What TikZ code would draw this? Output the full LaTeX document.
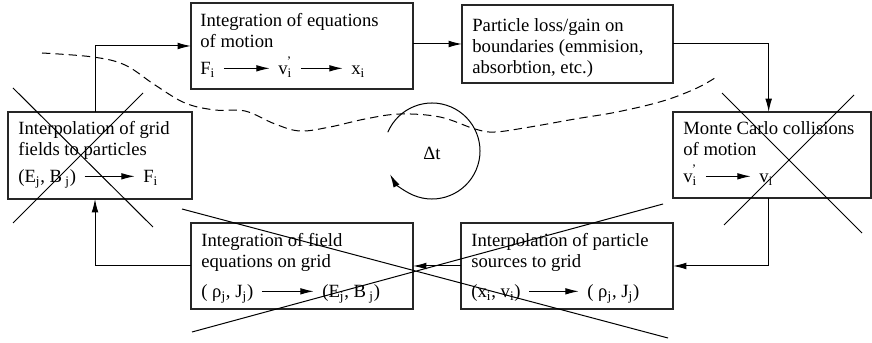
\documentclass[tikz,border=0pt]{standalone}
\usepackage{fontspec}
\setmainfont{Liberation Serif}
\usepackage{tikz}
\usetikzlibrary{arrows.meta, positioning, calc}

\newcommand{\velprime}{v\textsubscript{i}\llap{\raisebox{0.3ex}{\textsuperscript{’}}}}

\begin{document}
\begin{tikzpicture}[x=0.6pt, y=-0.6pt,
        font=\fontsize{11.2}{12.6}\selectfont,
        stagebox/.style={rectangle, draw=black!85, line width=0.7pt, inner sep=0pt, outer sep=0pt},
        stagetext/.style={anchor=base west, align=left, inner sep=0pt},
        quant/.style={anchor=base west, inner sep=0pt, text height=8pt, text depth=0pt},
        arrowline/.style={-{Latex[length=8pt, width=4pt]}, line width=0.6pt},
        maparrow/.style={-{Latex[length=8pt, width=4pt]}, line width=0.6pt, shorten <=5pt, shorten >=5pt},
        strike/.style={line width=0.6pt},
        boundary/.style={dash pattern=on 5pt off 3pt, line width=0.6pt}
    ]
        \useasboundingbox (0,0) rectangle (872,343);
        % stages of the cycle
        \node[stagebox, minimum width=133.2pt, minimum height=51.6pt] (motion) at (302,46) {};
        \node[stagebox, minimum width=126.6pt, minimum height=46.8pt] (loss) at (567.5,44) {};
        \node[stagebox, minimum width=110.4pt, minimum height=52.2pt] (grid) at (100,155.5) {};
        \node[stagebox, minimum width=118.8pt, minimum height=51.6pt] (mc) at (772,155) {};
        \node[stagebox, minimum width=133.2pt, minimum height=51.6pt] (field) at (302,266) {};
        \node[stagebox, minimum width=127.2pt, minimum height=51.6pt] (sources) at (567,266) {};
        \node[stagetext] (motiontxt) at (200,48) {Integration of equations\\of motion};
        \node[stagetext] (losstxt) at (472,74) {Particle loss/gain on\\boundaries (emmision,\\absorbtion, etc.)};
        \node[stagetext] (gridtxt) at (18,156) {Interpolation of grid\\fields to particles};
        \node[stagetext] (mctxt) at (683,156) {Monte Carlo collisions\\of motion};
        \node[stagetext] (fieldtxt) at (201,268) {Integration of field\\equations on grid};
        \node[stagetext] (sourcetxt) at (471,268) {Interpolation of particle\\sources to grid};
        % quantities inside the stages
        \node[quant] (motF) at (200,75) {F\textsubscript{i}};
        \node[quant] (motv) at (278,75) {\velprime};
        \node[quant] (motx) at (351,75) {x\textsubscript{i}};
        \draw[maparrow] (motF.east) -- (motv.west);
        \draw[maparrow] (motv.east) -- (motx.west);
        \node[quant] (gridEB) at (18,183) {(E\textsubscript{j}, B\,\textsubscript{j})};
        \node[quant] (gridF) at (143,183) {F\textsubscript{i}};
        \draw[maparrow] (gridEB.east) -- (gridF.west);
        \node[quant] (mcvp) at (683,183) {\velprime};
        \node[quant] (mcv) at (759,183) {v\textsubscript{i}};
        \draw[maparrow] (mcvp.east) -- (mcv.west);
        \node[quant] (fieldrho) at (201,298) {( ρ\textsubscript{j}, J\textsubscript{j})};
        \node[quant] (fieldEB) at (322,298) {(E\textsubscript{j}, B\,\textsubscript{j})};
        \draw[maparrow] (fieldrho.east) -- (fieldEB.west);
        \node[quant] (srcxv) at (471,298) {(x\textsubscript{i}, v\textsubscript{i})};
        \node[quant] (srcrho) at (587,298) {( ρ\textsubscript{j}, J\textsubscript{j})};
        \draw[maparrow] (srcxv.east) -- (srcrho.west);
        % the loop between stages
        \draw[arrowline] ([xshift=-3pt]grid.north) |- (motion.west);
        \draw[arrowline] (motion.east |- loss.west) -- (loss.west);
        \draw[arrowline] (loss.east) -| ([xshift=-2pt]mc.north);
        \draw[arrowline] ([xshift=-2pt]mc.south) |- (sources.east);
        \draw[arrowline] (sources.west) -- (field.east);
        \draw[arrowline] (field.west) -| ([xshift=-3pt]grid.south);
        % time step
        \node (dt) at (432,153) {Δt};
        \coordinate (dtc) at (432,151);
        \draw[arrowline] ($(dtc)+(-157:48)$) arc[start angle=-157, end angle=151, radius=48];
        % boundary of the domain
        \draw[boundary] plot[smooth, tension=0.6] coordinates {(42,53) (93,57) (125,65) (155,85) (185,103) (215,110) (245,111) (275,124) (300,131) (330,127) (365,119) (400,114) (440,117) (475,129) (495,132) (530,127) (575,119) (617,112) (663,101) (697,88) (718,76)};
        % crossed out
        \draw[strike] (13,88) -- (153,227) (143,93) -- (13,223);
        \draw[strike] (722,93) -- (862,233) (854,95) -- (724,225);
        \draw[strike] (182,209) -- (668,338) (192,332) -- (663,204);
    \end{tikzpicture}
\end{document}
